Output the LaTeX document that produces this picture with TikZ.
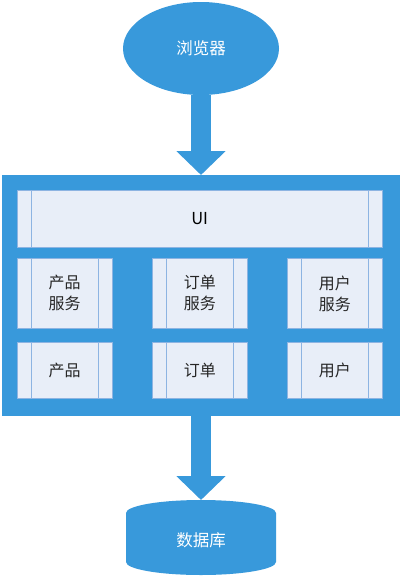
\documentclass[tikz,border=0pt]{standalone}
\usepackage{fontspec}
\setmainfont{Noto Sans CJK SC}
\usetikzlibrary{shapes.geometric,arrows.meta,calc}
\definecolor{mainblue}{RGB}{56,153,219}
\definecolor{boxfill}{RGB}{232,238,248}
\definecolor{boxline}{RGB}{141,180,226}
\tikzset{
  blockarrow/.style={draw=mainblue, line width=20pt, -{Triangle[width=48pt,length=24pt]}},
  svcbox/.style={draw=boxline, fill=boxfill, line width=0.8pt, inner sep=0pt, font=\fontsize{16pt}{21pt}\selectfont, text=black!85, align=center},
  whitetext/.style={text=white, font=\fontsize{16.5pt}{18pt}\selectfont},
}
\newcommand{\sidebars}[1]{%
  \draw[boxline, line width=0.8pt] ($(#1.north west)+(14,0)$) -- ($(#1.south west)+(14,0)$);
  \draw[boxline, line width=0.8pt] ($(#1.north east)+(-14,0)$) -- ($(#1.south east)+(-14,0)$);
}
\begin{document}
\begin{tikzpicture}[x=1pt,y=-1pt]
\useasboundingbox (0,0) rectangle (400,576);
% browser
\node[ellipse, fill=mainblue, minimum width=156pt, minimum height=93pt, inner sep=0pt, whitetext] (br) at (201,48.5) {浏览器};
% outer container
\node[fill=mainblue, minimum width=398pt, minimum height=241pt, inner sep=0pt, anchor=north west] (outer) at (2,175) {};
% UI bar
\node[svcbox, minimum width=364.5pt, minimum height=56.5pt, anchor=north west, text=black, font=\fontsize{16.5pt}{18pt}\selectfont] (ui) at (17,190) {UI};
\sidebars{ui}
% services
\node[svcbox, minimum width=94.5pt, minimum height=70pt, anchor=north west] (ps) at (17,258) {产品\\服务};
\node[svcbox, minimum width=94.5pt, minimum height=70pt, anchor=north west] (os) at (152.3,258) {订单\\服务};
\node[svcbox, minimum width=94.5pt, minimum height=70pt, anchor=north west] (us) at (287.3,258) {用户\\服务};
\sidebars{ps}\sidebars{os}\sidebars{us}
% data
\node[svcbox, minimum width=94.5pt, minimum height=56pt, anchor=north west] (pd) at (17,341.7) {产品};
\node[svcbox, minimum width=94.5pt, minimum height=56pt, anchor=north west] (od) at (152.3,341.7) {订单};
\node[svcbox, minimum width=94.5pt, minimum height=56pt, anchor=north west] (ud) at (287.3,341.7) {用户};
\sidebars{pd}\sidebars{od}\sidebars{ud}
% database cylinder
\fill[mainblue] (126,513) -- (126,562) arc[start angle=180, end angle=360, x radius=75, y radius=-13] -- (276,513) arc[start angle=0, end angle=180, x radius=75, y radius=-13] -- cycle;
\node[whitetext, inner sep=0pt, minimum width=150pt, minimum height=75pt] (db) at (201,540) {数据库};
\coordinate (dbtop) at (201,500);
% arrows
\draw[blockarrow] (br.south) -- (outer.north -| br.south);
\draw[blockarrow] (outer.south -| br.south) -- (dbtop);
\end{tikzpicture}
\end{document}
